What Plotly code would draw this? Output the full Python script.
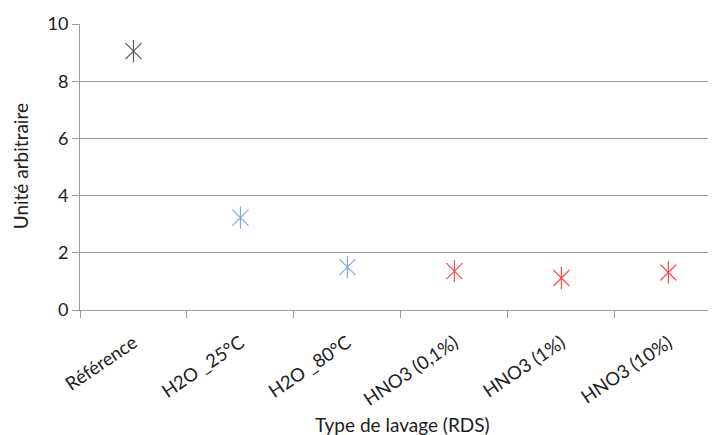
import plotly.graph_objects as go

categories = ["Référence", "H2O _25°C", "H2O _80°C", "HNO3 (0,1%)", "HNO3 (1%)", "HNO3 (10%)"]
values = [9.05, 3.23, 1.50, 1.36, 1.12, 1.31]
colors = ["#595959", "#7FA8E2", "#7FA8E2", "#FF4B4B", "#FF4B4B", "#FF4B4B"]

FONT = "Lato, 'Open Sans', sans-serif"

fig = go.Figure()
for sym in ["x-thin-open", "line-ns-open"]:
    fig.add_trace(go.Scatter(
        x=categories, y=values, mode="markers",
        marker=dict(symbol=sym, size=16, color=colors,
                    line=dict(color=colors, width=1.2)),
        showlegend=False, hoverinfo="x+y",
    ))

fig.update_layout(
    width=716, height=435,
    margin=dict(l=72, r=0, t=16, b=133, autoexpand=False),
    paper_bgcolor="white", plot_bgcolor="white",
    font=dict(family=FONT, size=18, color="#404040"),
    annotations=[
        dict(text="Type de lavage (RDS)", xref="paper", yref="paper",
             x=0.5, y=-0.399, xanchor="center", yanchor="middle",
             showarrow=False, font=dict(family=FONT, size=19, color="#202020")),
        dict(text="Unité arbitraire", xref="paper", yref="paper",
             x=-0.093, y=0.503, xanchor="center", yanchor="middle", textangle=-90,
             showarrow=False, font=dict(family=FONT, size=19, color="#202020")),
    ],
)
fig.update_xaxes(
    type="category", range=[-0.5, 5.52], automargin=False,
    tickson="boundaries", ticks="outside", ticklen=7, tickcolor="#9a9a9a",
    showline=True, linecolor="#9a9a9a", linewidth=1,
    showgrid=False, tickangle=-34, ticklabelstandoff=14,
    tickfont=dict(family=FONT, size=18.5, color="#202020"),
)
fig.update_yaxes(
    range=[0, 10], dtick=2, ticks="outside", ticklen=7, tickcolor="#9a9a9a",
    showline=True, linecolor="#9a9a9a", linewidth=1, automargin=False,
    showgrid=True, gridcolor="#9a9a9a", gridwidth=1, zeroline=False,
    tickfont=dict(family=FONT, size=18, color="#202020"),
)
fig.write_html("out.html")
